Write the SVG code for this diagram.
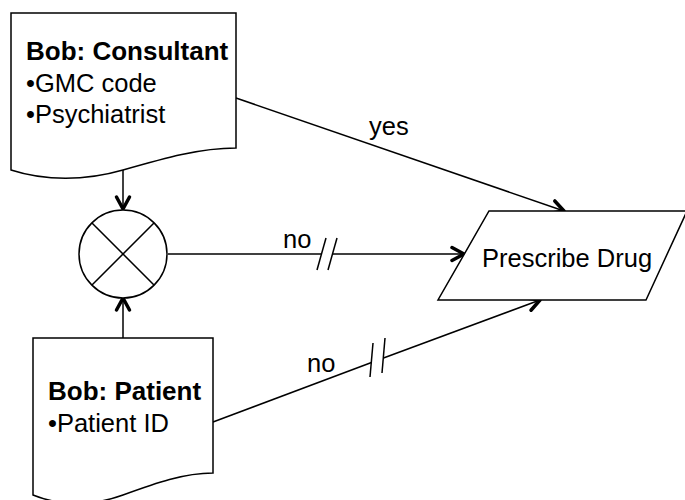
<svg xmlns="http://www.w3.org/2000/svg" width="685" height="500" viewBox="0 0 685 500">
<style>
.shape{fill:#fff;stroke:#000;stroke-width:1.5}
.conn{fill:none;stroke:#000;stroke-width:1.5}
.brk{fill:none;stroke:#000;stroke-width:1.5}
.t{font-family:"Liberation Sans",Arial,sans-serif;font-size:25.5px;fill:#000}
.b{font-weight:bold;font-size:26px}
</style>
<defs>
<marker id="arr" markerUnits="userSpaceOnUse" markerWidth="20" markerHeight="20" viewBox="0 0 20 20" refX="16" refY="10" orient="auto">
<path d="M4,3.5 L16,10 L4,16.5" fill="none" stroke="#000" stroke-width="3.5" stroke-linecap="round" stroke-linejoin="round"/>
</marker>
</defs>
<rect width="685" height="500" fill="#fff"/>
<g id="connectors">
<line class="conn" x1="236" y1="98" x2="564" y2="211" marker-end="url(#arr)"/>
<line class="conn" x1="123" y1="170" x2="123" y2="209" marker-end="url(#arr)"/>
<line class="conn" x1="123" y1="338" x2="123" y2="298" marker-end="url(#arr)"/>
<line class="conn" x1="168" y1="254" x2="321" y2="254"/>
<line class="conn" x1="332" y1="254" x2="464" y2="254" marker-end="url(#arr)"/>
<line class="brk" x1="326" y1="238" x2="317" y2="270"/>
<line class="brk" x1="337" y1="238" x2="328" y2="270"/>
<line class="conn" x1="213" y1="422" x2="371.5" y2="362.5"/>
<line class="conn" x1="383.5" y1="358" x2="540" y2="300" marker-end="url(#arr)"/>
<line class="brk" x1="373" y1="343" x2="370" y2="377"/>
<line class="brk" x1="385" y1="338" x2="382" y2="373"/>
<text class="t" x="369" y="135">yes</text>
<text class="t" x="283" y="248">no</text>
<text class="t" x="307" y="372">no</text>
</g>
<g id="consultant">
<path class="shape" d="M11,13 H236 V148 C200,148 165,158 123,170 C85,181 45,181 11,170 Z"/>
<text class="t b" x="26" y="60">Bob: Consultant</text>
<text class="t" x="26" y="92">•GMC code</text>
<text class="t" x="26" y="123">•Psychiatrist</text>
</g>
<g id="merge">
<circle class="shape" cx="123" cy="254" r="44"/>
<line class="conn" x1="92" y1="223" x2="154" y2="285"/>
<line class="conn" x1="154" y1="223" x2="92" y2="285"/>
</g>
<g id="patient">
<path class="shape" d="M33,338 H213 V473 C184,473 156,483 123,495 C93,506 60,506 33,495 Z"/>
<text class="t b" x="48" y="400">Bob: Patient</text>
<text class="t" x="48" y="432">•Patient ID</text>
</g>
<g id="prescribe">
<path class="shape" d="M489,211 H687 L646,300 H438 Z"/>
<text class="t" x="482" y="267">Prescribe Drug</text>
</g>
</svg>
